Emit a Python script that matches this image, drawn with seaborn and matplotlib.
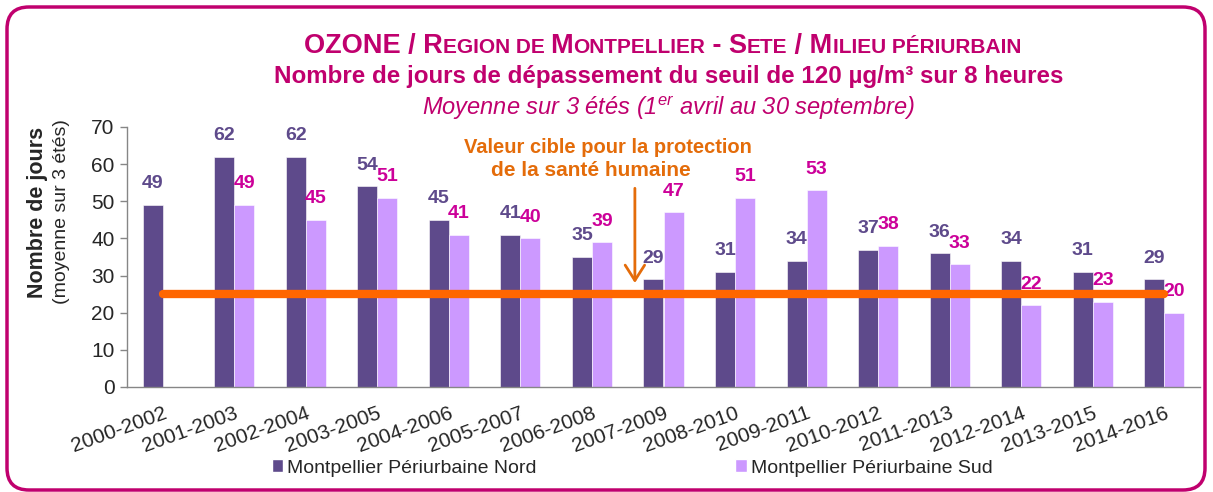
import numpy as np
import pandas as pd
import seaborn as sns
import matplotlib.pyplot as plt
from matplotlib.patches import FancyBboxPatch, Patch

# Data
periodes = ['2000-2002', '2001-2003', '2002-2004', '2003-2005', '2004-2006',
            '2005-2007', '2006-2008', '2007-2009', '2008-2010', '2009-2011',
            '2010-2012', '2011-2013', '2012-2014', '2013-2015', '2014-2016']
nord = [49, 62, 62, 54, 45, 41, 35, 29, 31, 34, 37, 36, 34, 31, 29]
sud = [np.nan, 49, 45, 51, 41, 40, 39, 47, 51, 53, 38, 33, 22, 23, 20]
stations = ['Montpellier Périurbaine Nord', 'Montpellier Périurbaine Sud']
valeur_cible = 25

violet = '#5E4A8B'
lilas = '#CC99FF'
magenta = '#C0006E'
label_sud = '#CC0099'
orange_line = '#FF6600'
orange_txt = '#E46C0A'

sns.set_style('white')
plt.rcParams['font.family'] = ['Liberation Sans', 'DejaVu Sans']
plt.rcParams['mathtext.fontset'] = 'custom'
plt.rcParams['mathtext.rm'] = 'Liberation Sans:italic'
plt.rcParams['mathtext.it'] = 'Liberation Sans:italic'

df = pd.DataFrame({
    'periode': periodes * 2,
    'jours': nord + sud,
    'station': [stations[0]] * len(periodes) + [stations[1]] * len(periodes),
})

W, H = 1213, 492
fig = plt.figure(figsize=(W / 100, H / 100), dpi=100)
ax = fig.add_axes([127 / W, 105 / H, 1073 / W, 260 / H])

sns.barplot(data=df, x='periode', y='jours', hue='station', palette=[violet, lilas],
            width=0.56, gap=0, saturation=1, ax=ax, legend=False,
            edgecolor='white', linewidth=0.4)

# value labels
for cont, col in zip(ax.containers, [violet, label_sud]):
    ax.bar_label(cont, fmt='%.0f', padding=9, color=col, fontsize=14, fontweight='bold')

# target line
ax.plot([0, len(periodes) - 1], [valeur_cible, valeur_cible], color=orange_line,
        lw=6, solid_capstyle='round', zorder=5)

ax.annotate('', xy=(6.6, 28), xytext=(6.6, 53.5),
            arrowprops=dict(arrowstyle='->, head_length=1.1, head_width=0.7',
                            color=orange_txt, lw=2, shrinkA=0, shrinkB=0))
ax.text(6.22, 64.6, 'Valeur cible pour la protection', ha='center', va='center',
        fontsize=14.5, fontweight='bold', color=orange_txt)
ax.text(5.98, 58.4, 'de la santé humaine', ha='center', va='center',
        fontsize=15, fontweight='bold', color=orange_txt)

# axes
ax.set_xlim(-0.5, len(periodes) - 0.5)
ax.set_ylim(0, 70)
ax.set_yticks(range(0, 71, 10))
ax.set_xticks(range(len(periodes)))
ax.set_xticklabels(periodes, rotation=20, ha='right', rotation_mode='anchor')
ax.set_xticks(np.arange(-0.5, len(periodes)), minor=True)
ax.tick_params(axis='x', which='major', length=0, pad=12, labelsize=15)
ax.tick_params(axis='x', which='minor', length=6, width=1, color='#868686', direction='out')
ax.tick_params(axis='y', length=5, width=1, color='#868686', direction='out', labelsize=15, pad=4)
ax.tick_params(bottom=True, left=True)
ax.set_xlabel('')
ax.set_ylabel('')
sns.despine(ax=ax)
for s in ['left', 'bottom']:
    ax.spines[s].set_color('#868686')
    ax.spines[s].set_linewidth(1)

# y label (two lines)
fig.text(38 / W, 1 - 212 / H, 'Nombre de jours', rotation=90, ha='center', va='center',
         fontsize=15.5, fontweight='bold')
fig.text(62 / W, 1 - 212 / H, '(moyenne sur 3 étés)', rotation=90, ha='center', va='center',
         fontsize=14)

# title line 1 with small caps
pieces = [('OZONE / R', 19.5), ('EGION DE ', 15), ('M', 19.5), ('ONTPELLIER', 15),
          (' - S', 19.5), ('ETE', 15), (' / M', 19.5), ('ILIEU PÉRIURBAIN', 15)]
yb = 1 - 53 / H
prev = None
for txt, fs in pieces:
    if prev is None:
        prev = fig.text(304 / W, yb, txt, fontsize=fs, fontweight='bold', color=magenta,
                        ha='left', va='baseline')
    else:
        prev = fig.add_artist(plt.Annotation(txt, xy=(1, yb), xycoords=(prev, 'figure fraction'),
                                             fontsize=fs, fontweight='bold', color=magenta,
                                             ha='left', va='baseline'))

fig.text(669 / W, 1 - 76 / H, 'Nombre de jours de dépassement du seuil de 120 µg/m³ sur 8 heures',
         ha='center', va='center', fontsize=17.4, fontweight='bold', color=magenta)
fig.text(668 / W, 1 - 108 / H, r'Moyenne sur 3 étés (1$^{er}$ avril au 30 septembre)',
         ha='center', va='center', fontsize=17, style='italic', color=magenta)

# legend
handles = [Patch(facecolor=violet), Patch(facecolor=lilas)]
fig.legend(handles, stations, loc='center', bbox_to_anchor=(632 / W, 1 - 468 / H),
           ncol=2, frameon=False, fontsize=14, handlelength=0.6, handleheight=0.6,
           handletextpad=0.2, columnspacing=10.2)

# rounded frame
fig.add_artist(FancyBboxPatch((7, 2), 1198, 483, boxstyle='round,pad=0,rounding_size=22',
                              transform=None, fill=False, edgecolor=magenta, lw=2.5))

fig.savefig('out.png', dpi=100)
